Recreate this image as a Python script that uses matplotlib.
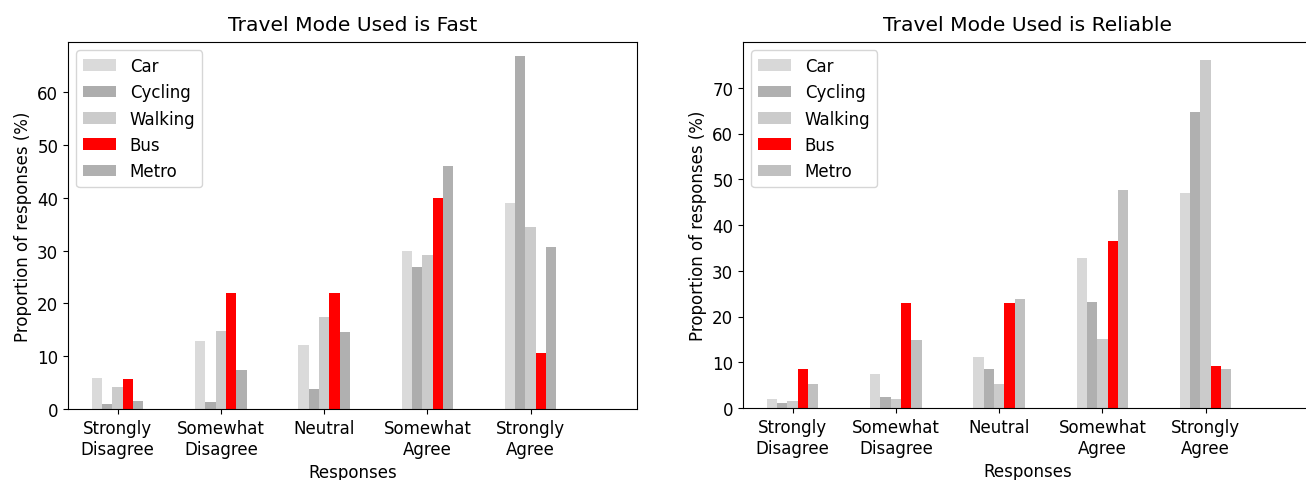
import matplotlib
matplotlib.use("Agg")
import matplotlib.pyplot as plt
import numpy as np

categories = ["Strongly\nDisagree", "Somewhat\nDisagree", "Neutral", "Somewhat\nAgree", "Strongly\nAgree"]
modes = ["Car", "Cycling", "Walking", "Bus", "Metro"]

fast_car = [5.8, 12.8, 12.2, 30.0, 39.0]
fast_cycling = [0.9, 1.3, 3.8, 26.8, 66.8]
fast_walking = [4.1, 14.8, 17.4, 29.2, 34.5]
fast_bus = [5.7, 21.9, 21.9, 39.9, 10.6]
fast_metro = [1.6, 7.4, 14.5, 46.1, 30.6]

rel_car = [2.0, 7.4, 11.1, 32.8, 47.1]
rel_cycling = [1.1, 2.3, 8.5, 23.2, 64.7]
rel_walking = [1.6, 2.0, 5.2, 15.1, 76.1]
rel_bus = [8.5, 22.9, 22.9, 36.5, 9.2]
rel_metro = [5.2, 14.8, 23.9, 47.7, 8.5]

colors_fast = ["#dadada", "#adadad", "#cbcbcb", "red", "#b0b0b0"]
colors_rel = ["#d8d8d8", "#b0b0b0", "#cbcbcb", "red", "#c0c0c0"]

fig = plt.figure(figsize=(13.06, 4.81), dpi=100)
W, H = 1306, 481
ax1 = fig.add_axes([68 / W, (H - 410) / H, 569 / W, 367 / H])
ax2 = fig.add_axes([743 / W, (H - 409) / H, 569 / W, 366 / H])

x = np.arange(len(categories))
bw = 0.1
fs = 12.0

def draw(ax, series, colors, title, yticks):
    for j, (name, vals, c) in enumerate(zip(modes, series, colors)):
        ax.bar(x + (j - 2) * bw, vals, width=bw, color=c, label=name)
    ax.set_xticks(x)
    ax.set_xticklabels(categories, fontsize=fs)
    ax.set_xlim(-0.48, 5.03)
    ax.set_yticks(yticks)
    ax.tick_params(axis="y", labelsize=fs)
    ax.set_title(title, fontsize=14.6, pad=8.5)
    ax.set_xlabel("Responses", fontsize=fs, labelpad=4)
    ax.set_ylabel("Proportion of responses (%)", fontsize=fs)
    ax.legend(loc="upper left", fontsize=fs)

draw(ax1, [fast_car, fast_cycling, fast_walking, fast_bus, fast_metro], colors_fast,
     "Travel Mode Used is Fast", np.arange(0, 61, 10))
ax1.set_ylim(0, 69.5)
draw(ax2, [rel_car, rel_cycling, rel_walking, rel_bus, rel_metro], colors_rel,
     "Travel Mode Used is Reliable", np.arange(0, 71, 10))
ax2.set_ylim(0, 80)

fig.savefig("out.png", dpi=100)
